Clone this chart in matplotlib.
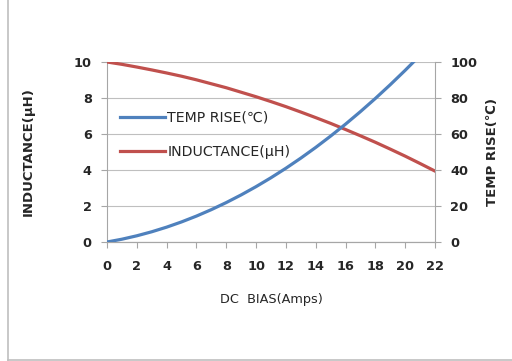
import matplotlib
matplotlib.use("Agg")
import matplotlib.pyplot as plt
from matplotlib.lines import Line2D

# DC bias (A) and readings taken off the two curves, one per amp
dc_bias = list(range(0, 23))
inductance = [10.00, 9.87, 9.72, 9.56, 9.39, 9.21, 9.01, 8.79, 8.57, 8.32, 8.07, 7.80,
              7.52, 7.22, 6.91, 6.59, 6.25, 5.90, 5.54, 5.16, 4.77, 4.36, 3.94]
temp_rise = [0, 1.55, 3.45, 5.68, 8.25, 11.16, 14.40, 17.99, 21.91, 26.17, 30.77, 35.71,
             40.98, 46.60, 52.55, 58.85, 65.48, 72.45, 79.75, 87.40, 95.38, 103.7, 112.4]

x_ticks = list(range(0, 23, 2))
l_ticks = [0, 2, 4, 6, 8, 10]
t_ticks = [0, 20, 40, 60, 80, 100]

blue = '#4F81BD'
red = '#C0504D'
grey = '#A6A6A6'
text_col = '#262626'

fig = plt.figure(figsize=(5.12, 3.61), dpi=100)
ax1 = fig.add_axes([107/512, 1 - 242/361, 328/512, 180/361])
ax2 = ax1.twinx()

ax1.plot(dc_bias, inductance, color=red, lw=2.3, zorder=3)
ax2.plot(dc_bias, temp_rise, color=blue, lw=2.3, zorder=3)

ax1.set_xlim(0, 22)
ax1.set_ylim(0, 10)
ax2.set_ylim(0, 100)
ax1.set_xticks(x_ticks)
ax1.set_yticks(l_ticks)
ax2.set_yticks(t_ticks)
ax1.grid(axis='y', color='#BFBFBF', lw=0.8)
ax1.set_axisbelow(True)

for ax in (ax1, ax2):
    for s in ax.spines.values():
        s.set_color(grey)
        s.set_linewidth(0.8)
    ax.spines['top'].set_visible(False)
    ax.tick_params(colors=grey, length=4, width=0.8, direction='out', pad=7)
ax2.spines['left'].set_visible(False)
ax1.spines['right'].set_visible(False)
ax1.tick_params(axis='x', pad=9)

for lab in ax1.get_xticklabels() + ax1.get_yticklabels() + ax2.get_yticklabels():
    lab.set_fontweight('bold')
    lab.set_fontsize(9.3)
    lab.set_color(text_col)

ax1.set_xlabel('DC  BIAS(Amps)', fontsize=9.3, color=text_col, labelpad=14)
ax1.set_ylabel('INDUCTANCE(μH)', fontsize=9.5, color=text_col, labelpad=28,
               fontweight='bold')
ax2.set_ylabel('TEMP RISE(℃)', fontsize=9.5, color=text_col, labelpad=6,
               fontweight='bold')

handles = [Line2D([], [], color=blue, lw=2.3), Line2D([], [], color=red, lw=2.3)]
leg = ax2.legend(handles, ['TEMP RISE(℃)', 'INDUCTANCE(μH)'],
                 loc='upper left', bbox_to_anchor=(0.0, 0.80), frameon=False,
                 handlelength=3.2, handletextpad=0.15, labelspacing=1.45,
                 prop={'size': 10.2})
for t in leg.get_texts():
    t.set_color(text_col)

# thin frame on the left and bottom of the picture
fig.add_artist(Line2D([8/512, 8/512], [0, 1], color='#BFBFBF', lw=1.2))
fig.add_artist(Line2D([8/512, 1], [1.5/361, 1.5/361], color='#BFBFBF', lw=1.2))

fig.savefig('out.png', dpi=100)
